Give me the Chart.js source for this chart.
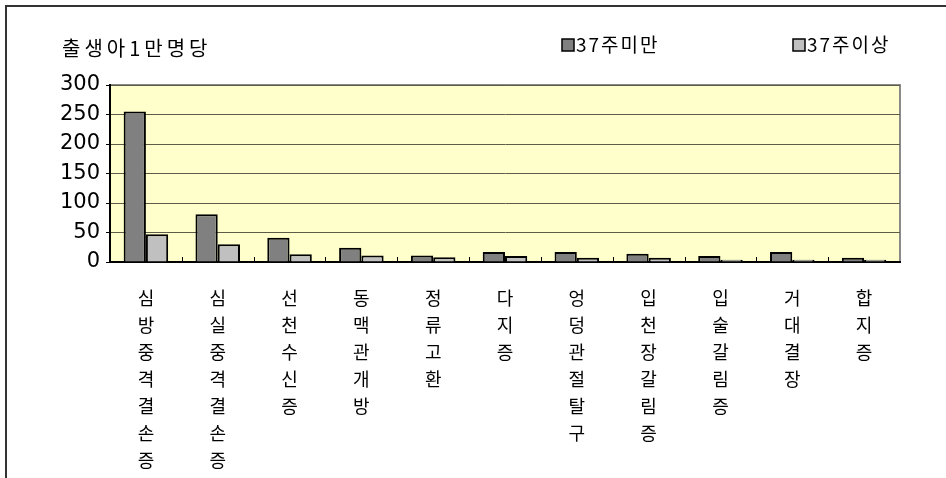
<!DOCTYPE html>
<html>
<head>
<meta charset="utf-8">
<script src="https://cdn.jsdelivr.net/npm/chart.js@4"></script>
<style>
  html, body { margin: 0; padding: 0; background: #fff; }
  #wrap { width: 946px; height: 478px; }
</style>
</head>
<body>
<div id="wrap"><canvas id="chart-anomaly" width="946" height="478"></canvas></div>
<script>
const categories = [
  "심방중격결손증",
  "심실중격결손증",
  "선천수신증",
  "동맥관개방",
  "정류고환",
  "다지증",
  "엉덩관절탈구",
  "입천장갈림증",
  "입술갈림증",
  "거대결장",
  "합지증",
];
const seriesNames = ["37주미만", "37주이상"];
const under37 = [255, 81, 41, 24, 11, 17, 17, 14, 10, 17, 7];
const over37 = [47, 30, 13, 11, 8, 10, 7, 7, 4, 4, 4];
const yTicks = [0, 50, 100, 150, 200, 250, 300];
const yTitle = "출생아1만명당";

const KR = '"Noto Sans CJK KR", "Noto Sans", sans-serif';
const NUM = '"DejaVu Sans", sans-serif';

// plot background, frame, category tick marks, legend and axis caption
const decor = {
  id: "decor",
  beforeDraw(chart) {
    const { ctx, chartArea: a } = chart;
    ctx.save();
    ctx.fillStyle = "#fff";
    ctx.fillRect(0, 0, chart.width, chart.height);
    ctx.strokeStyle = "#333";
    ctx.lineWidth = 2;
    ctx.beginPath();
    ctx.moveTo(6, chart.height);
    ctx.lineTo(6, 6);
    ctx.lineTo(chart.width, 6);
    ctx.stroke();
    ctx.fillStyle = "#ffffcc";
    ctx.fillRect(a.left, a.top, a.right - a.left, a.bottom - a.top);
    ctx.strokeStyle = "#8a8a8a";
    ctx.lineWidth = 2;
    ctx.beginPath();
    ctx.moveTo(a.left, a.top);
    ctx.lineTo(a.right, a.top);
    ctx.lineTo(a.right, a.bottom);
    ctx.stroke();
    ctx.restore();
  },
  afterDraw(chart) {
    const { ctx, chartArea: a } = chart;
    const xs = chart.scales.x;
    ctx.save();
    ctx.strokeStyle = "#000";
    ctx.lineWidth = 1;
    for (let i = 1; i < categories.length; i++) {
      const x = Math.round((xs.getPixelForTick(i - 1) + xs.getPixelForTick(i)) / 2) + 0.5;
      ctx.beginPath();
      ctx.moveTo(x, a.bottom);
      ctx.lineTo(x, a.bottom - 5);
      ctx.stroke();
    }
    ctx.fillStyle = "#000";
    ctx.textBaseline = "middle";
    ctx.textAlign = "left";
    ctx.font = "20px " + KR;
    ctx.letterSpacing = "4px";
    ctx.fillText(yTitle, 62, 48);

    const legendX = [562, 793];
    ctx.font = "19px " + KR;
    ctx.letterSpacing = "2px";
    chart.data.datasets.forEach((ds, i) => {
      const x = legendX[i];
      ctx.fillStyle = ds.backgroundColor;
      ctx.fillRect(x, 39, 12, 12);
      ctx.strokeStyle = "#000";
      ctx.lineWidth = 1.5;
      ctx.strokeRect(x, 39, 12, 12);
      ctx.fillStyle = "#000";
      ctx.fillText(ds.label, x + 14, 45);
    });
    ctx.restore();
  },
};

new Chart(document.getElementById("chart-anomaly"), {
  type: "bar",
  data: {
    labels: categories.map((s) => s.split("")),
    datasets: [
      {
        label: seriesNames[0],
        data: under37,
        backgroundColor: "#808080",
        borderColor: "#000",
        borderWidth: 2,
      },
      {
        label: seriesNames[1],
        data: over37,
        backgroundColor: "#c0c0c0",
        borderColor: "#000",
        borderWidth: 2,
      },
    ],
  },
  plugins: [decor],
  options: {
    responsive: false,
    animation: false,
    layout: {
      padding: { top: 85, right: 46, left: 0, bottom: 0 },
    },
    datasets: {
      bar: { categoryPercentage: 0.62, barPercentage: 1.0 },
    },
    plugins: {
      legend: { display: false },
      title: { display: false },
      tooltip: { enabled: false },
    },
    scales: {
      x: {
        afterFit(scale) {
          scale.height = 478 - 262;
        },
        grid: { display: false },
        border: { display: true, color: "#000", width: 2 },
        ticks: {
          color: "#000",
          maxRotation: 0,
          autoSkip: false,
          padding: 15,
          font: { family: KR, size: 18, lineHeight: 1.5 },
        },
      },
      y: {
        min: 0,
        max: 300,
        afterFit(scale) {
          scale.width = 110;
        },
        afterBuildTicks(scale) {
          scale.ticks = yTicks.map((v) => ({ value: v }));
        },
        grid: {
          color: "#5c5c48",
          lineWidth: 1,
          tickLength: 4,
          tickColor: "#000",
        },
        border: { display: true, color: "#000", width: 2 },
        ticks: {
          color: "#000",
          padding: 6,
          font: { family: NUM, size: 21 },
        },
      },
    },
  },
});
</script>
</body>
</html>
